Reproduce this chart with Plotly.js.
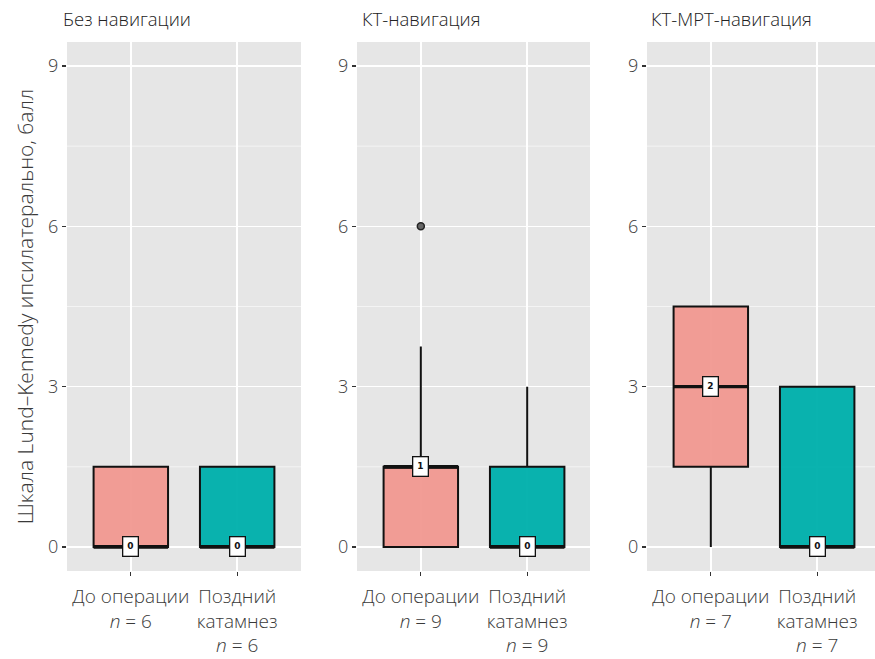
<!DOCTYPE html>
<html>
<head>
<meta charset="utf-8">
<script src="https://cdn.plot.ly/plotly-3.0.1.min.js"></script>
<style>html,body{margin:0;padding:0;overflow:hidden;background:#fff;}</style>
</head>
<body>
<div id="chart" style="width:875px;height:659px;"></div>
<script>
// ---- data ----
var facets = ["Без навигации", "КТ-навигация", "КТ-МРТ-навигация"];
var categories = ["До операции", "Поздний катамнез"];
var nPre = [6, 9, 7];
var nLate = [6, 9, 7];
// box statistics per facet: [До операции, Поздний катамнез]
var q1Values = [[0, 0], [0, 0], [1.5, 0]];
var medianValues = [[0, 0], [1.5, 0], [3, 0]];
var q3Values = [[1.5, 1.5], [1.5, 1.5], [4.5, 3]];
var lowerWhisker = [[0, 0], [0, 0], [0, 0]];
var upperWhisker = [[1.5, 1.5], [3.75, 3], [4.5, 3]];
var medianLabels = [["0", "0"], ["1", "0"], ["2", "0"]];
var outlierFacet = [1];
var outlierCategory = [0];
var outlierValues = [6];
var yTicks = [0, 3, 6, 9];
var yMinorTicks = [1.5, 4.5, 7.5];

// ---- style ----
var fillColors = ["rgba(241,150,142,0.93)", "rgba(0,176,172,0.96)"];
var boxWidth = 0.7;
var font = "'Open Sans', 'DejaVu Sans', sans-serif";
var textColor = "#3a3a3a";
var W = 875, H = 659;
var panelPx = [[67, 301], [357, 590], [647, 875]];
var panelTop = 42, panelBottom = 571;
var catPos = [1, 2];

var traces = [];
var annotations = [];
var shapes = [];
var layout = {
  width: W, height: H,
  margin: {l: 0, r: 0, t: 0, b: 0},
  paper_bgcolor: "#ffffff",
  plot_bgcolor: "#E6E6E6",
  showlegend: false,
  font: {family: font, color: textColor, weight: 300},
  annotations: annotations,
  shapes: shapes
};

for (var f = 0; f < 3; f++) {
  var sfx = f === 0 ? "" : String(f + 1);
  var xa = "x" + sfx, ya = "y" + sfx;
  var x0 = panelPx[f][0], x1 = panelPx[f][1];
  var xRangeEnd = 0.4 + (x1 - x0) / (panelPx[0][1] - panelPx[0][0]) * 2.2;
  var ticktext = [
    categories[0] + "<br><i>n</i> = " + nPre[f],
    categories[1].replace(" ", "<br>") + "<br><i>n</i> = " + nLate[f]
  ];
  layout["xaxis" + sfx] = {
    domain: [x0 / W, x1 / W],
    range: [0.4, xRangeEnd],
    tickvals: catPos, ticktext: ticktext,
    showgrid: true, gridcolor: "#ffffff", gridwidth: 1.6,
    zeroline: false, showline: false,
    ticks: "outside", ticklen: 4, tickwidth: 1.3, tickcolor: "#333",
    ticklabelstandoff: 4,
    tickfont: {size: 19, family: font, color: textColor, weight: 300},
    anchor: ya, fixedrange: true
  };
  layout["yaxis" + sfx] = {
    domain: [(H - panelBottom) / H, (H - panelTop) / H],
    range: [-0.45, 9.45],
    tickmode: "array", tickvals: yTicks,
    showgrid: true, gridcolor: "#ffffff", gridwidth: 1.6,
    zeroline: false, showline: false,
    ticks: "outside", ticklen: 4, tickwidth: 1.3, tickcolor: "#333",
    tickfont: {size: 18, family: font, color: textColor, weight: 300},
    anchor: xa, fixedrange: true
  };
  if (f === 0) {
    layout.yaxis.title = {text: "Шкала Lund–Kennedy ипсилатерально, балл", font: {size: 21, family: font, color: textColor, weight: 300}, standoff: 8};
  }
  // minor horizontal gridlines, below the traces
  for (var m = 0; m < yMinorTicks.length; m++) {
    shapes.push({
      type: "line", layer: "below",
      xref: xa + " domain", yref: ya,
      x0: 0, x1: 1, y0: yMinorTicks[m], y1: yMinorTicks[m],
      line: {color: "#F4F4F4", width: 1}
    });
  }
  for (var c = 0; c < 2; c++) {
    traces.push({
      type: "box", xaxis: xa, yaxis: ya,
      x: [catPos[c]],
      q1: [q1Values[f][c]], median: [medianValues[f][c]], q3: [q3Values[f][c]],
      lowerfence: [lowerWhisker[f][c]], upperfence: [upperWhisker[f][c]],
      width: boxWidth, whiskerwidth: 0,
      fillcolor: fillColors[c],
      line: {color: "#111111", width: 2},
      boxpoints: false, hoverinfo: "skip"
    });
    // thicker median
    traces.push({
      type: "scatter", mode: "lines", xaxis: xa, yaxis: ya,
      x: [catPos[c] - boxWidth / 2, catPos[c] + boxWidth / 2],
      y: [medianValues[f][c], medianValues[f][c]],
      line: {color: "#111111", width: 3.4}, hoverinfo: "skip"
    });
    annotations.push({
      xref: xa, yref: ya, x: catPos[c], y: medianValues[f][c],
      text: "<b>" + medianLabels[f][c] + "</b>", showarrow: false,
      font: {size: 9, family: "DejaVu Sans", color: "#111"},
      bgcolor: "#ffffff", bordercolor: "#111111", borderwidth: 1.3, borderpad: 4,
      xanchor: "center", yanchor: "middle"
    });
  }
  annotations.push({
    xref: "paper", yref: "paper", x: (f === 0 ? 61 : f === 1 ? 360 : 649) / W, y: (H - 19) / H,
    text: facets[f], showarrow: false, xanchor: "left", yanchor: "middle",
    font: {size: 18.5, family: font, color: "#222", weight: 300}
  });
}

for (var o = 0; o < outlierValues.length; o++) {
  var fs = outlierFacet[o] === 0 ? "" : String(outlierFacet[o] + 1);
  traces.push({
    type: "scatter", mode: "markers", xaxis: "x" + fs, yaxis: "y" + fs,
    x: [catPos[outlierCategory[o]]], y: [outlierValues[o]],
    marker: {size: 7, color: "#666", line: {color: "#222", width: 1.5}},
    hoverinfo: "skip"
  });
}

Plotly.newPlot("chart", traces, layout, {displayModeBar: false, staticPlot: true});
</script>
</body>
</html>
